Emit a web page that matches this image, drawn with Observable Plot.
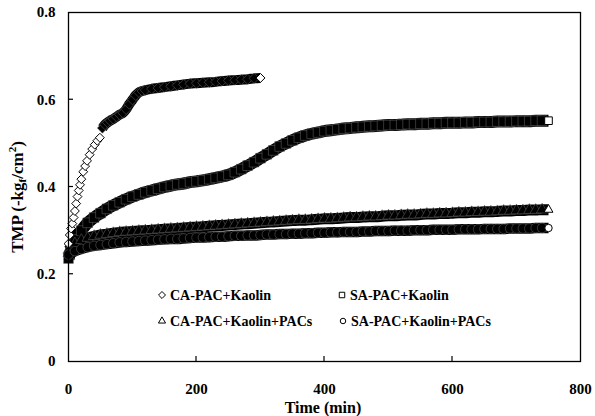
<!DOCTYPE html>
<html><head><meta charset="utf-8">
<script src="https://cdn.jsdelivr.net/npm/d3@7"></script>
<script src="https://cdn.jsdelivr.net/npm/@observablehq/plot@0.6"></script>
<style>
body{margin:0;background:#fff;}
#chart{position:relative;width:595px;height:416px;}
</style></head><body><div id="chart"></div>
<script>
const seriesNames = ["CA-PAC+Kaolin", "SA-PAC+Kaolin", "CA-PAC+Kaolin+PACs", "SA-PAC+Kaolin+PACs"];
const xTicks = [0, 200, 400, 600, 800];
const yTicks = [0, 0.2, 0.4, 0.6, 0.8];
const yTickLabels = ["0", "0.2", "0.4", "0.6", "0.8"];

// CA-PAC+Kaolin (diamonds)
const caTime = [0,2,4,6,8,10,12,14,16,18,20,23,26,29,33,37,41,45,49,53,57,61,65,70,75,80,85,90,95,100,105,110,115,120,130,140,150,160,170,180,190,200,210,220,230,240,250,260,270,280,290,300];
const caKaolin = [0.27,0.29,0.305,0.316,0.33,0.345,0.362,0.378,0.392,0.405,0.418,0.435,0.448,0.46,0.474,0.487,0.497,0.506,0.513,0.535,0.543,0.548,0.552,0.556,0.561,0.566,0.570,0.578,0.590,0.600,0.610,0.617,0.620,0.622,0.625,0.627,0.629,0.631,0.633,0.635,0.637,0.638,0.639,0.640,0.641,0.643,0.644,0.645,0.646,0.647,0.649,0.650];

// common time grid for the three long runs
const longTime = [0,10,20,30,40,50,60,70,80,90,100,110,120,130,140,150,160,170,180,190,200,210,220,230,240,250,260,270,280,290,300,310,320,330,340,350,360,370,380,390,400,410,420,430,440,450,460,470,480,490,500,510,520,530,540,550,560,570,580,590,600,610,620,630,640,650,660,670,680,690,700,710,720,730,740,750];

// SA-PAC+Kaolin (squares)
const saKaolin = [0.236,0.280,0.300,0.318,0.330,0.340,0.350,0.358,0.365,0.372,0.378,0.383,0.388,0.392,0.396,0.400,0.403,0.406,0.408,0.411,0.413,0.415,0.418,0.421,0.424,0.428,0.434,0.441,0.449,0.457,0.466,0.475,0.484,0.493,0.500,0.507,0.513,0.518,0.522,0.525,0.528,0.530,0.532,0.534,0.535,0.537,0.538,0.539,0.540,0.541,0.542,0.542,0.543,0.544,0.544,0.545,0.545,0.546,0.546,0.547,0.547,0.547,0.548,0.548,0.549,0.549,0.549,0.550,0.550,0.550,0.551,0.551,0.551,0.552,0.552,0.552];

// CA-PAC+Kaolin+PACs (triangles)
const caKaolinPACs = [0.255,0.270,0.278,0.283,0.287,0.290,0.292,0.294,0.296,0.297,0.298,0.299,0.300,0.301,0.302,0.303,0.304,0.305,0.306,0.307,0.308,0.309,0.310,0.311,0.312,0.313,0.314,0.315,0.316,0.317,0.318,0.319,0.320,0.321,0.322,0.323,0.324,0.324,0.325,0.326,0.327,0.327,0.328,0.329,0.330,0.330,0.331,0.332,0.332,0.333,0.334,0.334,0.335,0.336,0.336,0.337,0.338,0.338,0.339,0.339,0.340,0.341,0.341,0.342,0.342,0.343,0.343,0.344,0.345,0.345,0.346,0.346,0.347,0.347,0.348,0.348];

// SA-PAC+Kaolin+PACs (circles)
const saKaolinPACs = [0.245,0.253,0.258,0.262,0.265,0.267,0.269,0.271,0.273,0.274,0.275,0.276,0.277,0.278,0.279,0.280,0.281,0.281,0.282,0.283,0.284,0.284,0.285,0.286,0.286,0.287,0.288,0.288,0.289,0.289,0.290,0.291,0.291,0.292,0.292,0.293,0.293,0.294,0.294,0.295,0.295,0.296,0.296,0.297,0.297,0.297,0.298,0.298,0.299,0.299,0.299,0.300,0.300,0.300,0.301,0.301,0.301,0.302,0.302,0.302,0.302,0.303,0.303,0.303,0.303,0.304,0.304,0.304,0.304,0.305,0.305,0.305,0.305,0.306,0.306,0.306];

function rows(times, vals, name) {
  return times.map((t, i) => ({t, v: vals[i], series: name, last: i === times.length - 1}));
}
const caRows = rows(caTime, caKaolin, seriesNames[0]);
const saRows = rows(longTime, saKaolin, seriesNames[1]);
const triRows = rows(longTime, caKaolinPACs, seriesNames[2]);
const cirRows = rows(longTime, saKaolinPACs, seriesNames[3]);

const sparseBefore = 50; // early CA points drawn as separate hollow markers

function seriesMarks(data, symbol, rBand, rLast, bandWidth, hollowFilter) {
  const hollow = hollowFilter ? data.filter(d => !d.last && hollowFilter(d)) : [];
  const band = data.filter(d => !(hollowFilter && hollowFilter(d)));
  const bandDots = band.filter(d => !d.last);
  const last = data.filter(d => d.last);
  return [
    Plot.dot(hollow, {x: "t", y: "v", symbol, r: rLast, fill: "white", stroke: "black", strokeWidth: 1}),
    Plot.line(band, {x: "t", y: "v", stroke: "black", strokeWidth: bandWidth, strokeLinecap: "butt", strokeLinejoin: "round", curve: "monotone-x"}),
    Plot.dot(bandDots, {x: "t", y: "v", symbol, r: rBand, fill: "black", stroke: "#6a6a6a", strokeWidth: 0.5}),
    Plot.dot(last, {x: "t", y: "v", symbol, r: rLast, fill: "white", stroke: "black", strokeWidth: 1})
  ];
}

const chart = Plot.plot({
  width: 595, height: 416,
  marginLeft: 68, marginRight: 15, marginTop: 12, marginBottom: 55,
  style: {fontFamily: "'Liberation Serif', serif", fontSize: "15px", fontWeight: "bold", color: "#000", background: "#fff"},
  x: {domain: [0, 800], label: null},
  y: {domain: [0, 0.8], label: null},
  marks: [
    Plot.axisX({ticks: xTicks, tickSize: 0, tickPadding: 22, tickFormat: d => String(d), label: null}),
    Plot.axisY({ticks: yTicks, tickSize: 0, tickPadding: 13, tickFormat: d => yTickLabels[yTicks.indexOf(d)], label: null}),
    ...seriesMarks(saRows, "square", 5.5, 4.3, 12),
    ...seriesMarks(triRows, "triangle", 4.2, 3.3, 11),
    ...seriesMarks(cirRows, "circle", 4.8, 3.7, 10.5),
    ...seriesMarks(caRows, "diamond2", 4.6, 4, 10, d => d.t < sparseBefore),
    Plot.frame({stroke: "#000", strokeWidth: 1.3})
  ]
});

document.getElementById("chart").appendChild(chart);

const svg = d3.select(chart);
const xs = chart.scale("x"), ys = chart.scale("y");
const yBottom = ys.apply(0), xLeft = xs.apply(0);

// inward ticks
svg.append("g").selectAll("line").data(xTicks.slice(1, -1)).join("line")
  .attr("x1", d => xs.apply(d)).attr("x2", d => xs.apply(d))
  .attr("y1", yBottom).attr("y2", yBottom - 5)
  .attr("stroke", "#000").attr("stroke-width", 1.2);
svg.append("g").selectAll("line").data(yTicks.slice(1, -1)).join("line")
  .attr("y1", d => ys.apply(d)).attr("y2", d => ys.apply(d))
  .attr("x1", xLeft).attr("x2", xLeft + 5)
  .attr("stroke", "#000").attr("stroke-width", 1.2);

// axis titles
svg.append("text").attr("x", 323).attr("y", 413).attr("text-anchor", "middle")
  .attr("font-size", 16).attr("font-weight", "bold").attr("fill", "#000").text("Time (min)");
const yl = svg.append("text").attr("transform", "translate(23,197) rotate(-90)")
  .attr("text-anchor", "middle").attr("font-size", 17).attr("font-weight", "bold").attr("fill", "#000");
yl.append("tspan").text("TMP (-kg");
yl.append("tspan").attr("font-size", 11).attr("dy", 3).text("f");
yl.append("tspan").attr("dy", -3).text("/cm");
yl.append("tspan").attr("font-size", 11).attr("dy", -7).text("2");
yl.append("tspan").attr("dy", 7).text(")");

// legend
const legendItems = [
  {name: seriesNames[0], sym: d3.symbolDiamond2, size: 31, x: 162, y: 295},
  {name: seriesNames[1], sym: d3.symbolSquare, size: 30, x: 342, y: 295},
  {name: seriesNames[2], sym: d3.symbolTriangle, size: 22, x: 162, y: 321},
  {name: seriesNames[3], sym: d3.symbolCircle, size: 24, x: 343, y: 321}
];
const lg = svg.append("g");
legendItems.forEach(it => {
  lg.append("path").attr("d", d3.symbol(it.sym, it.size)())
    .attr("transform", `translate(${it.x},${it.y})`)
    .attr("fill", "white").attr("stroke", "black").attr("stroke-width", 1);
  lg.append("text").attr("x", it.x + 8).attr("y", it.y + 4.5).attr("text-anchor", "start")
    .attr("font-size", 14).attr("font-weight", "bold").attr("fill", "#000").text(it.name);
});
</script>
</body></html>
